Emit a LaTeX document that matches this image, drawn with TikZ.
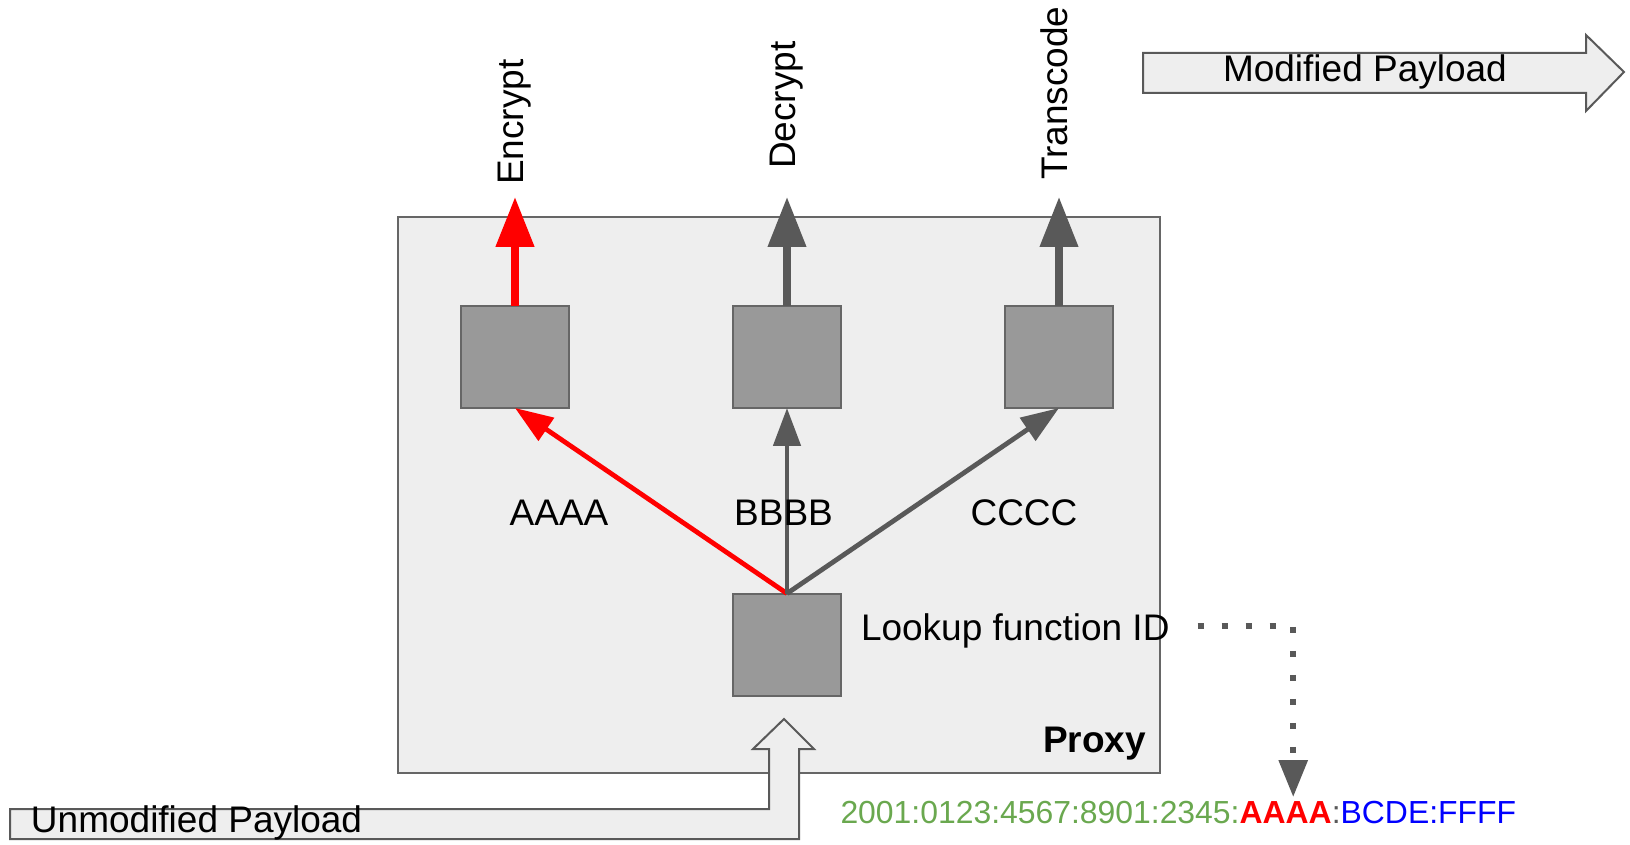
\documentclass[tikz,border=0pt]{standalone}
\usepackage{fontspec}
\setmainfont{Liberation Sans}
\usetikzlibrary{arrows.meta}
\definecolor{panel}{HTML}{EEEEEE}
\definecolor{edge}{HTML}{666666}
\definecolor{block}{HTML}{999999}
\definecolor{ink}{HTML}{595959}
\definecolor{hot}{HTML}{FF0000}
\definecolor{addrgreen}{HTML}{6AA84F}
\definecolor{addrblue}{HTML}{0000FF}
\newcommand{\mainsize}{\fontsize{18.5pt}{22pt}\selectfont}
\newcommand{\addrsize}{\fontsize{15.95pt}{19pt}\selectfont}

\begin{document}
\begin{tikzpicture}[x=0.5pt,y=-0.5pt,
  lbl/.style={inner sep=0pt, outer sep=0pt, font=\mainsize},
  fnbox/.style={draw=edge, fill=block, line width=1pt, minimum width=54pt,
    minimum height=51pt, inner sep=0pt, outer sep=0pt},
  outflow/.style={ink, line width=3.7pt, -{Triangle[length=25pt,width=18.5pt]}},
  dispatch/.style={ink, line width=2.4pt, -{Triangle[length=19pt,width=13.5pt]}},
  hollow/.style={draw=ink, fill=panel, line width=1pt, line join=miter},
  lookupline/.style={ink, line width=3pt, dash pattern=on 3pt off 9pt,
    -{Triangle[length=18.5pt,width=14pt]}},
  addr/.style={inner sep=0pt, outer sep=0pt, font=\addrsize, anchor=base west},
]
\useasboundingbox (0,0) rectangle (1630,845);

% proxy container
\node[draw=edge, fill=panel, line width=1pt, minimum width=381pt,
  minimum height=278pt, inner sep=0pt, outer sep=0pt] (proxy) at (779,495) {};

% function blocks
\node[fnbox] (enc) at (515,357) {};
\node[fnbox] (dec) at (787,357) {};
\node[fnbox] (tra) at (1059,357) {};
\node[fnbox] (look) at (787,644.5) {};

% outputs of the function blocks
\coordinate (encOut) at (515,197);
\coordinate (decOut) at (787,197);
\coordinate (traOut) at (1059,197);
\draw[outflow, hot, line width=3.9pt] (enc.north) -- (encOut);
\draw[outflow] (dec.north) -- (decOut);
\draw[outflow] (tra.north) -- (traOut);

% dispatch from the lookup block
\draw[dispatch, hot] (look.north) -- (enc.south);
\draw[dispatch] (look.north) -- (dec.south);
\draw[dispatch] (look.north) -- (tra.south);

% labels
\node[lbl, rotate=90, anchor=base west] (encLbl) at (523,185) {Encrypt};
\node[lbl, rotate=90, anchor=base west] (decLbl) at (795,169) {Decrypt};
\node[lbl, rotate=90, anchor=base west] (traLbl) at (1067,180) {Transcode};
\node[lbl, anchor=base] (la) at (559,525) {AAAA};
\node[lbl, anchor=base] (lb) at (783.5,525) {BBBB};
\node[lbl, anchor=base] (lc) at (1024,525) {CCCC};
\node[lbl, anchor=base west] (lookLbl) at (861,640) {Lookup function ID};
\node[lbl, anchor=base east, font=\mainsize\bfseries] (proxyLbl) at (1146,752) {Proxy};

% payload arrows
\draw[hollow] (1143,53) -- (1586,53) -- (1586,35) -- (1624,72) -- (1586,111)
  -- (1586,93) -- (1143,93) -- cycle;
\node[lbl, anchor=base west] (modLbl) at (1223,82) {Modified Payload};

\draw[hollow] (10,809) -- (769,809) -- (769,749) -- (753,749) -- (784,719)
  -- (814,749) -- (799,749) -- (799,839) -- (10,839) -- cycle;
\node[lbl, anchor=base west] (unmodLbl) at (31,832) {Unmodified Payload};

% address
\node[addr, addrgreen] (addrPre) at (840.5,823) {2001:0123:4567:8901:2345:};
\node[addr, hot, font=\addrsize\bfseries] (addrA) at (addrPre.base east) {AAAA};
\node[addr, ink] (addrSep) at (addrA.base east) {:};
\node[addr, addrblue] (addrPost) at (addrSep.base east) {BCDE:FFFF};

% lookup result points into the address
\draw[lookupline, shorten <=14pt, shorten >=2pt]
  ([yshift=2pt]lookLbl.east) -| ([xshift=3.75pt]addrA.north);
\end{tikzpicture}
\end{document}
